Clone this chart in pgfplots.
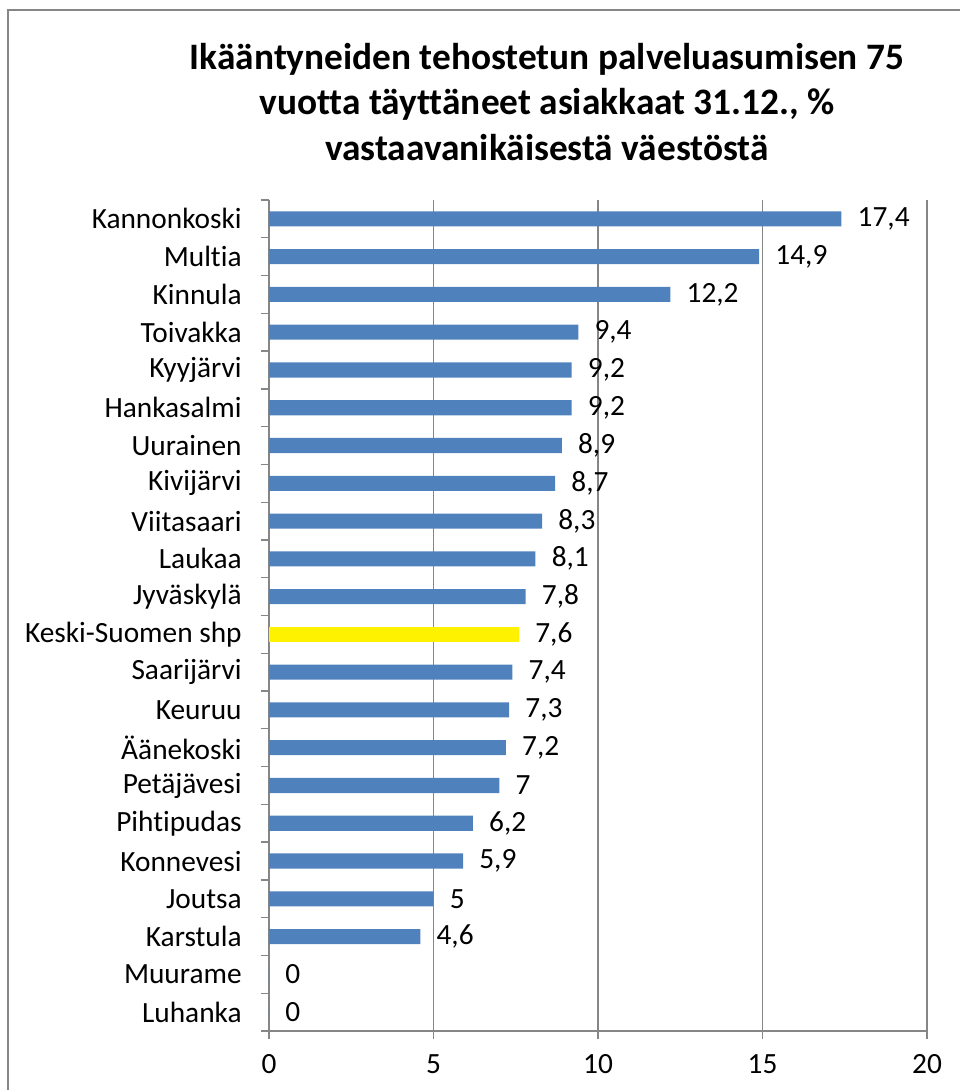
\documentclass[border=0pt]{standalone}
\usepackage{pgfplots}
\pgfplotsset{compat=1.18}
\usepackage{fontspec}
\setmainfont{Carlito}[RawFeature={-liga;-clig;-dlig}]
\definecolor{barblue}{HTML}{4F81BD}
\definecolor{gridgray}{HTML}{868686}
\begin{document}
\begin{tikzpicture}
\begin{scope}[x=0.75pt,y=0.75pt]
\path[use as bounding box] (0,0) rectangle (960,1090);
\begin{scope}
\clip (0,0) rectangle (960,1090);
\draw[gridgray, line width=1.5pt] (8,1080) rectangle (990,-30);
\end{scope}
\node[font=\bfseries\fontsize{28}{34}\selectfont, align=center] at (547,988) {Ikääntyneiden tehostetun palveluasumisen 75\\vuotta täyttäneet asiakkaat 31.12., \%\\vastaavanikäisestä väestöstä};
\end{scope}
\begin{axis}[
  at={(201.75pt,44.25pt)}, anchor=south west,
  width=493.5pt, height=623.25pt, scale only axis,
  xmin=0, xmax=20, ymin=-0.5, ymax=21.5,
  y dir=reverse,
  xbar, bar width=11.3pt, bar shift=0pt,
  axis x line*=bottom, axis y line*=left,
  axis line style={gridgray, line width=1pt},
  xtick={0,5,10,15,20},
  xmajorgrids, major grid style={gridgray, line width=1pt},
  ytick={0,...,21},
  yticklabels={Kannonkoski,Multia,Kinnula,Toivakka,Kyyjärvi,Hankasalmi,Uurainen,Kivijärvi,Viitasaari,Laukaa,Jyväskylä,Keski-Suomen shp,Saarijärvi,Keuruu,Äänekoski,Petäjävesi,Pihtipudas,Konnevesi,Joutsa,Karstula,Muurame,Luhanka},
  minor ytick={-0.5,0.5,...,21.5},
  tick align=outside,
  major tick length=6pt,
  y tick style={draw=none},
  minor y tick style={draw=gridgray, line width=1pt},
  minor tick length=6pt,
  x tick style={gridgray, line width=1pt},
  ticklabel style={font=\fontsize{22}{26.5}\selectfont},
  yticklabel style={xshift=-11pt},
  xticklabel style={yshift=-8pt},
  /pgf/number format/assume math mode=true,
  /pgf/number format/use comma,
  nodes near coords,
  nodes near coords style={font=\fontsize{22}{26.5}\selectfont, anchor=west, inner sep=0pt, xshift=12pt, text=black},
  clip=false,
]
\addplot[fill=barblue, draw=none] coordinates {
(17.4,0) (14.9,1) (12.2,2) (9.4,3) (9.2,4) (9.2,5) (8.9,6) (8.7,7) (8.3,8) (8.1,9) (7.8,10)
(7.4,12) (7.3,13) (7.2,14) (7,15) (6.2,16) (5.9,17) (5,18) (4.6,19) (0,20) (0,21)};
\addplot[fill=yellow, draw=none] coordinates {(7.6,11)};
\end{axis}
\end{tikzpicture}
\end{document}
